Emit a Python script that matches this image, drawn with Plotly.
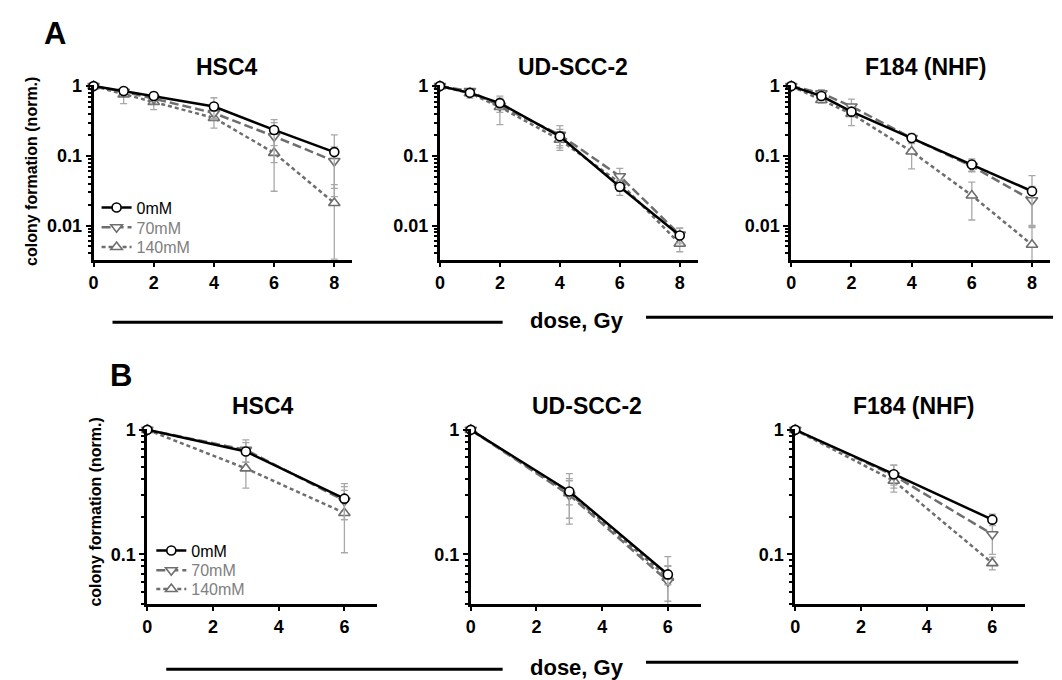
import math
import plotly.graph_objects as go

W, H = 1062, 680

# ---------------- data ----------------
dose_A = [0, 1, 2, 4, 6, 8]
dose_B = [0, 3, 6]
series_names = ["0mM", "70mM", "140mM"]
cell_lines = ["HSC4", "UD-SCC-2", "F184 (NHF)"]

# Panel A  (values, error bars)
A_HSC4_0 = [1, 0.85, 0.72, 0.51, 0.235, 0.113]
A_HSC4_0_err = [0, 0.08, 0.10, 0.17, 0.095, 0.087]
A_HSC4_70 = [1, 0.83, 0.66, 0.41, 0.19, 0.084]
A_HSC4_70_err = [0, 0.10, 0.10, 0.08, 0.11, 0.05]
A_HSC4_140 = [1, 0.76, 0.59, 0.35, 0.11, 0.021]
A_HSC4_140_err = [0, 0.20, 0.13, 0.10, 0.079, 0.0177]

A_UD_0 = [1, 0.80, 0.57, 0.19, 0.036, 0.0072]
A_UD_0_err = [0, 0.08, 0.10, 0.05, 0.009, 0.002]
A_UD_70 = [1, 0.85, 0.52, 0.20, 0.051, 0.0074]
A_UD_70_err = [0, 0.06, 0.10, 0.07, 0.015, 0.0018]
A_UD_140 = [1, 0.79, 0.50, 0.17, 0.041, 0.0055]
A_UD_140_err = [0, 0.12, 0.22, 0.05, 0.010, 0.0013]

A_F184_0 = [1, 0.72, 0.43, 0.18, 0.075, 0.031]
A_F184_0_err = [0, 0.08, 0.06, 0.02, 0.015, 0.021]
A_F184_70 = [1, 0.79, 0.51, 0.18, 0.071, 0.023]
A_F184_70_err = [0, 0.10, 0.14, 0.03, 0.012, 0.0133]
A_F184_140 = [1, 0.63, 0.40, 0.115, 0.027, 0.0053]
A_F184_140_err = [0, 0.06, 0.13, 0.05, 0.015, 0.004]

# Panel B
B_HSC4_0 = [1, 0.67, 0.28]
B_HSC4_0_err = [0, 0.12, 0.09]
B_HSC4_70 = [1, 0.69, 0.27]
B_HSC4_70_err = [0, 0.14, 0.08]
B_HSC4_140 = [1, 0.49, 0.215]
B_HSC4_140_err = [0, 0.15, 0.112]

B_UD_0 = [1, 0.32, 0.069]
B_UD_0_err = [0, 0.07, 0.012]
B_UD_70 = [1, 0.30, 0.061]
B_UD_70_err = [0, 0.105, 0.019]
B_UD_140 = [1, 0.31, 0.065]
B_UD_140_err = [0, 0.135, 0.031]

B_F184_0 = [1, 0.44, 0.19]
B_F184_0_err = [0, 0.08, 0.02]
B_F184_70 = [1, 0.43, 0.145]
B_F184_70_err = [0, 0.09, 0.045]
B_F184_140 = [1, 0.39, 0.085]
B_F184_140_err = [0, 0.074, 0.01]

A_ticks_x = [0, 2, 4, 6, 8]
B_ticks_x = [0, 2, 4, 6]
A_ticks_y = [0.01, 0.1, 1]
A_ticklabels_y = ["0.01", "0.1", "1"]
B_ticks_y = [0.1, 1]
B_ticklabels_y = ["0.1", "1"]

# ---------------- layout helpers ----------------
def px_x(p):
    return p / W

def px_y(p):
    return 1 - p / H

FONT = "Liberation Sans, Arial, sans-serif"
GRAY = "#6e6e6e"
ERRC = "#a8a8a8"

styles = {
    "0mM": dict(color="black", dash="solid", symbol="circle", mcolor="black", size=9),
    "70mM": dict(color=GRAY, dash="9px,4px", symbol="triangle-down", mcolor=GRAY, size=10),
    "140mM": dict(color=GRAY, dash="4px,3px", symbol="triangle-up", mcolor=GRAY, size=10),
}
legend_labels = {
    "0mM": "0mM",
    "70mM": '<span style="color:#808080">70mM</span>',
    "140mM": '<span style="color:#808080">140mM</span>',
}

# one legend box per entry so rows can sit as tightly as in the original
legend_ids_A = ["legend", "legend3", "legend4"]
legend_ids_B = ["legend2", "legend5", "legend6"]

panels = [
    (dose_A, [A_HSC4_0, A_HSC4_70, A_HSC4_140], [A_HSC4_0_err, A_HSC4_70_err, A_HSC4_140_err], (89, 349), "A", legend_ids_A),
    (dose_A, [A_UD_0, A_UD_70, A_UD_140], [A_UD_0_err, A_UD_70_err, A_UD_140_err], (437, 696), "A", None),
    (dose_A, [A_F184_0, A_F184_70, A_F184_140], [A_F184_0_err, A_F184_70_err, A_F184_140_err], (790, 1050), "A", None),
    (dose_B, [B_HSC4_0, B_HSC4_70, B_HSC4_140], [B_HSC4_0_err, B_HSC4_70_err, B_HSC4_140_err], (143, 374), "B", legend_ids_B),
    (dose_B, [B_UD_0, B_UD_70, B_UD_140], [B_UD_0_err, B_UD_70_err, B_UD_140_err], (468, 699), "B", None),
    (dose_B, [B_F184_0, B_F184_70, B_F184_140], [B_F184_0_err, B_F184_70_err, B_F184_140_err], (794, 1025), "B", None),
]

row_cfg = {
    "A": dict(ydom=(77.6, 255.0), yrange=[math.log10(0.0032), 0.02], xrange=[0, 8.6],
              xt=A_ticks_x, yt=A_ticks_y, ytl=A_ticklabels_y,
              minor=[m * 10 ** e for e in (-3, -2, -1) for m in range(2, 10) if m * 10 ** e >= 0.0032]),
    "B": dict(ydom=(425.6, 603.0), yrange=[math.log10(0.04), 0.01], xrange=[0, 7],
              xt=B_ticks_x, yt=B_ticks_y, ytl=B_ticklabels_y,
              minor=[m * 10 ** e for e in (-2, -1) for m in range(2, 10) if m * 10 ** e >= 0.04]),
}

fig = go.Figure()
layout = {}
for i, (xd, ser, errs, xdom, row, legs) in enumerate(panels):
    n = i + 1
    xa = "x" if n == 1 else f"x{n}"
    ya = "y" if n == 1 else f"y{n}"
    cfg = row_cfg[row]
    for k in [2, 1, 0]:
        nm = series_names[k]
        st = styles[nm]
        fig.add_trace(go.Scatter(
            x=xd, y=ser[k], xaxis=xa, yaxis=ya,
            mode="lines+markers",
            name=legend_labels[nm],
            showlegend=legs is not None,
            legend=legs[k] if legs else "legend",
            line=dict(color=st["color"], width=2.5, dash=st["dash"]),
            marker=dict(symbol=st["symbol"], size=st["size"], color="white",
                        line=dict(color=st["mcolor"], width=1.6)),
            error_y=dict(type="data", array=errs[k], visible=True, color=ERRC,
                         thickness=1.3, width=3.5),
            cliponaxis=False,
        ))
    xkey = "xaxis" if n == 1 else f"xaxis{n}"
    ykey = "yaxis" if n == 1 else f"yaxis{n}"
    layout[xkey] = dict(
        domain=[px_x(xdom[0]), px_x(xdom[1])], anchor=ya, range=cfg["xrange"],
        showline=True, linecolor="black", linewidth=3, showgrid=False, zeroline=False,
        tickmode="array", tickvals=cfg["xt"], ticks="outside", ticklen=4, tickwidth=2,
        tickcolor="black",
        tickfont=dict(family=FONT, size=18, color="black", weight="bold"),
    )
    layout[ykey] = dict(
        domain=[px_y(cfg["ydom"][1]), px_y(cfg["ydom"][0])], anchor=xa, type="log",
        range=cfg["yrange"], showline=True, linecolor="black", linewidth=3,
        showgrid=False, zeroline=False,
        tickmode="array", tickvals=cfg["yt"], ticktext=cfg["ytl"], ticks="outside",
        ticklen=5, tickwidth=2, tickcolor="black",
        minor=dict(tickmode="array", tickvals=cfg["minor"], ticks="outside", ticklen=3,
                   tickwidth=1.5, tickcolor="black", showgrid=False),
        tickfont=dict(family=FONT, size=18, color="black", weight="bold"),
    )

annotations = []
title_centers_A = [223, 571, 925]
title_centers_B = [259, 585, 913]
for name, cx in zip(cell_lines, title_centers_A):
    annotations.append(dict(text=name, x=px_x(cx), y=px_y(60), xref="paper", yref="paper",
                            showarrow=False, xanchor="center", yanchor="middle",
                            font=dict(family=FONT, size=23, color="black", weight="bold")))
for name, cx in zip(cell_lines, title_centers_B):
    annotations.append(dict(text=name, x=px_x(cx), y=px_y(403), xref="paper", yref="paper",
                            showarrow=False, xanchor="center", yanchor="middle",
                            font=dict(family=FONT, size=23, color="black", weight="bold")))
for letter, (cx, cy) in zip(["A", "B"], [(50, 26), (117, 372)]):
    annotations.append(dict(text=letter, x=px_x(cx), y=px_y(cy), xref="paper", yref="paper",
                            showarrow=False, xanchor="center", yanchor="middle",
                            font=dict(family=FONT, size=31, color="black", weight="bold")))
for cx, cy in [(26, 165), (90, 510)]:
    annotations.append(dict(text="colony formation (norm.)", x=px_x(cx), y=px_y(cy),
                            xref="paper", yref="paper", showarrow=False, textangle=-90,
                            xanchor="center", yanchor="middle",
                            font=dict(family=FONT, size=16, color="black", weight="bold")))
for cy in [316, 667]:
    annotations.append(dict(text="dose, Gy", x=px_x(575), y=px_y(cy), xref="paper", yref="paper",
                            showarrow=False, xanchor="center", yanchor="middle",
                            font=dict(family=FONT, size=22, color="black", weight="bold")))

shapes = []
for (x0, x1, y) in [(108, 500, 318), (644, 1053, 313), (162, 500, 669), (644, 1018, 662)]:
    shapes.append(dict(type="line", xref="paper", yref="paper",
                       x0=px_x(x0), x1=px_x(x1), y0=px_y(y), y1=px_y(y),
                       line=dict(color="black", width=3)))

legend_common = dict(bgcolor="rgba(0,0,0,0)", borderwidth=0,
                     font=dict(family=FONT, size=16, color="black"),
                     xanchor="left", yanchor="middle", itemwidth=30)

legend_layout = {}
for lid, yc in zip(legend_ids_A, [202, 222, 242]):
    legend_layout[lid] = dict(x=px_x(92), y=px_y(yc), **legend_common)
for lid, yc in zip(legend_ids_B, [549, 569, 588]):
    legend_layout[lid] = dict(x=px_x(147), y=px_y(yc), **legend_common)

fig.update_layout(
    width=W, height=H, autosize=False,
    margin=dict(l=0, r=0, t=0, b=0),
    paper_bgcolor="white", plot_bgcolor="white",
    annotations=annotations, shapes=shapes,
    **legend_layout,
    **layout,
)

fig.write_html("out.html", config={"displayModeBar": False},
               post_script="document.body.style.margin='0';document.body.style.overflow='hidden';")
